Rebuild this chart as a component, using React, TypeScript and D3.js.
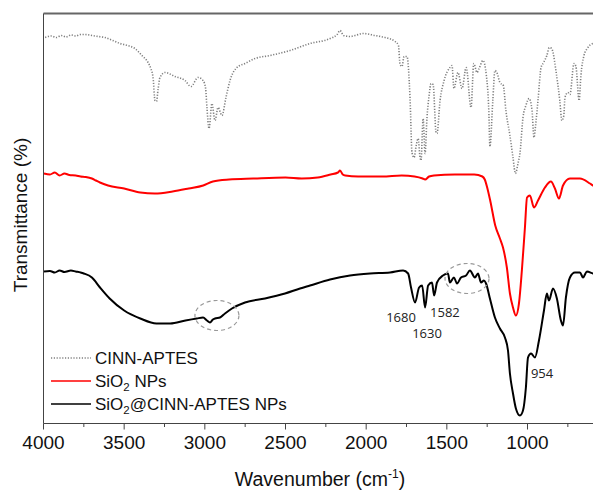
import React from "react";
import * as d3 from "d3";

// CINN-APTES (wavenumber cm-1, transmittance a.u.)
const cinnAptes: [number, number][] = [
  [3990,386],[3950,387.5],[3920,386],[3890,388],[3860,386.5],[3830,388.5],[3800,387.5],[3770,389],[3743,389],[3700,388],[3660,387],[3619,386],[3570,383],[3526,380],[3480,378],[3433,375],[3390,368],[3352,361],[3335,355],[3321,346],[3309,323],[3300,322],[3290,334],[3278,346],[3247,351],[3185,347],[3123,343],[3086,337],[3042,346],[3011,343],[2995,335],[2987,316],[2974,295],[2956,320],[2937,303],[2918,316],[2894,308],[2869,326],[2844,343],[2801,356],[2751,360],[2689,365],[2596,368],[2472,373],[2348,380],[2224,385],[2180,389],[2162,393],[2140,388],[2100,387],[2069,388],[2020,390],[1945,388],[1883,386],[1821,382],[1800,378],[1790,359],[1778,357],[1765,367],[1747,367],[1728,325],[1716,271],[1703,266],[1690,278],[1678,285],[1666,266],[1660,263],[1647,305],[1635,270],[1623,306],[1610,328],[1598,340],[1585,339],[1567,291],[1561,290],[1542,323],[1517,343],[1481,356],[1468,358],[1456,335],[1431,351],[1406,335],[1380,356],[1350,316],[1333,360],[1313,351],[1300,355],[1276,363],[1255,348],[1240,313],[1233,277],[1215,323],[1202,353],[1190,351],[1171,341],[1150,338],[1134,313],[1109,288],[1090,266],[1075,250],[1059,260],[1047,270],[1028,306],[1010,318],[990,325],[972,313],[960,286],[950,298],[935,323],[916,356],[900,361],[880,368],[865,376],[850,375],[842,371],[824,353],[800,323],[787,303],[775,308],[768,326],[750,331],[737,329],[712,360],[700,357],[680,323],[669,348],[650,368],[630,375],[594,380],[560,381],
];

// SiO2 NPs
const sio2: [number, number][] = [
  [3997,250],[3960,249],[3930,251],[3900,248],[3870,250],[3840,248.5],[3800,248],[3770,247],[3740,246.5],[3700,245],[3675,243],[3650,241],[3600,238],[3500,235],[3400,231],[3310,230],[3200,232],[3100,235],[3010,238],[2950,242],[2850,244],[2700,245],[2500,246],[2400,245],[2300,246],[2220,249],[2175,251],[2162,253],[2145,249],[2130,248],[2050,247],[1900,247],[1780,248],[1700,247],[1650,245],[1635,244],[1610,247],[1580,248],[1450,249],[1330,249],[1280,247],[1265,244],[1250,236],[1230,222],[1200,198],[1171,185],[1152,176],[1128,156],[1109,130],[1090,116],[1072,108],[1053,120],[1035,153],[1016,196],[1003,226],[985,228],[960,216],[935,223],[892,236],[855,242],[830,235],[805,225],[780,238],[737,245],[675,245],[613,240],[594,238],[560,236],
];

// SiO2@CINN-APTES NPs
const sio2Cinn: [number, number][] = [
  [3997,152],[3960,152.5],[3930,151],[3900,153],[3870,151.5],[3830,153],[3800,152],[3770,151],[3750,150],[3700,146],[3650,136],[3590,125],[3500,113],[3400,105],[3300,100],[3215,100],[3120,103],[3050,105],[3011,106],[2987,103],[2968,101],[2950,104],[2937,105],[2906,106],[2875,110],[2832,115],[2751,121],[2627,125],[2503,130],[2410,135],[2348,138],[2224,144],[2100,148],[1976,150],[1852,151],[1771,153],[1740,150],[1722,136],[1697,121],[1672,136],[1653,138],[1635,116],[1616,138],[1592,141],[1579,128],[1561,141],[1524,148],[1493,150],[1481,141],[1456,146],[1437,140],[1412,146],[1381,148],[1357,153],[1326,146],[1307,150],[1288,141],[1270,143],[1257,140],[1233,125],[1202,106],[1171,95],[1140,86],[1121,73],[1109,50],[1090,30],[1072,15],[1047,8],[1028,13],[1010,36],[997,66],[978,70],[954,66],[929,83],[898,113],[880,130],[867,123],[842,135],[818,125],[793,103],[780,98],[762,126],[737,146],[706,151],[675,151],[656,146],[632,152],[594,150],[560,149],
];

const majorTicks = [4000, 3500, 3000, 2500, 2000, 1500, 1000];
const minorTicks = [3750, 3250, 2750, 2250, 1750, 1250, 750];

const peakLabels = [
  { text: "1680", wn: 1784, t: 106 },
  { text: "1630", wn: 1623, t: 90 },
  { text: "1582", wn: 1512, t: 111 },
  { text: "954", wn: 910, t: 50 },
];

const circled = [
  { wn: 2925, t: 108 },
  { wn: 1375, t: 145 },
];

const legendItems = [
  { key: "cinn", label: "CINN-APTES", sub: false, rest: "" },
  { key: "sio2", label: "SiO", sub: true, rest: " NPs" },
  { key: "both", label: "SiO", sub: true, rest: "@CINN-APTES NPs" },
];

export default function App() {
  const W = 593, H = 491;
  const left = 43.5, right = 598.5, top = 13.5, bottom = 423.5;
  const x = d3.scaleLinear().domain([4000, 560]).range([left, right]);
  const y = d3.scaleLinear().domain([0, 410]).range([bottom, top]);
  const line = d3
    .line<[number, number]>()
    .x((d) => x(d[0]))
    .y((d) => y(d[1]))
    .curve(d3.curveMonotoneX);

  const styles: Record<string, any> = {
    cinn: { stroke: "#808080", strokeWidth: 1.6, strokeDasharray: "1.2,1.6" },
    sio2: { stroke: "#ff0000", strokeWidth: 2 },
    both: { stroke: "#000000", strokeWidth: 2 },
  };
  const font = "Arial, 'Liberation Sans', sans-serif";

  return (
    <svg
      width={W}
      height={H}
      style={{ position: "absolute", left: 0, top: 0, background: "#fff" }}
    >
      <defs>
        <clipPath id="plot">
          <rect x={left} y={top} width={right - left} height={bottom - top} />
        </clipPath>
      </defs>
      <g clipPath="url(#plot)" fill="none" strokeLinejoin="round">
        <path d={line(cinnAptes) || ""} {...styles.cinn} />
        <path d={line(sio2) || ""} {...styles.sio2} />
        <path d={line(sio2Cinn) || ""} {...styles.both} />
      </g>
      {/* frame */}
      <line x1={left} x2={W} y1={top} y2={top} stroke="#666" strokeWidth={2} />
      <line x1={left} x2={left} y1={top} y2={bottom} stroke="#444" strokeWidth={1} />
      <line x1={left} x2={W} y1={bottom} y2={bottom} stroke="#444" strokeWidth={1} />
      {majorTicks.map((t) => (
        <g key={t}>
          <line x1={x(t)} x2={x(t)} y1={bottom} y2={bottom + 6} stroke="#444" />
          <text
            x={x(t)}
            y={449}
            textAnchor="middle"
            fontFamily={font}
            fontSize={19}
            fill="#111"
          >
            {t}
          </text>
        </g>
      ))}
      {minorTicks.map((t) => (
        <line key={t} x1={x(t)} x2={x(t)} y1={bottom} y2={bottom + 3.5} stroke="#444" />
      ))}
      <text x={320} y={486} textAnchor="middle" fontFamily={font} fontSize={19.5} fill="#111">
        Wavenumber (cm
        <tspan fontSize={12} dy={-8}>-1</tspan>
        <tspan dy={8}>)</tspan>
      </text>
      <text
        transform={`translate(27,215) rotate(-90)`}
        textAnchor="middle"
        fontFamily={font}
        fontSize={19}
        fill="#111"
      >
        Transmittance (%)
      </text>
      {/* ellipses */}
      {circled.map((c, i) => (
        <ellipse
          key={i}
          cx={x(c.wn)}
          cy={y(c.t)}
          rx={22}
          ry={15}
          fill="none"
          stroke="#999"
          strokeWidth={1.2}
          strokeDasharray="4,3"
        />
      ))}
      {peakLabels.map((p) => (
        <text
          key={p.text}
          x={x(p.wn)}
          y={y(p.t)}
          dy="0.35em"
          textAnchor="middle"
          fontFamily="'Open Sans', sans-serif"
          fontSize={13}
          fill="#222"
        >
          {p.text}
        </text>
      ))}
      {/* legend */}
      {legendItems.map((it, i) => {
        const ly = [358, 381, 404][i];
        return (
          <g key={it.key}>
            <line x1={51} x2={91} y1={ly} y2={ly} {...styles[it.key]} strokeWidth={it.key === "cinn" ? 1.4 : 1.6} />
            <text x={95} y={ly + 6} fontFamily={font} fontSize={17} fill="#111">
              {it.label}
              {it.sub && (
                <>
                  <tspan fontSize={11.5} dy={4}>2</tspan>
                  <tspan dy={-4}>{it.rest}</tspan>
                </>
              )}
            </text>
          </g>
        );
      })}
    </svg>
  );
}
